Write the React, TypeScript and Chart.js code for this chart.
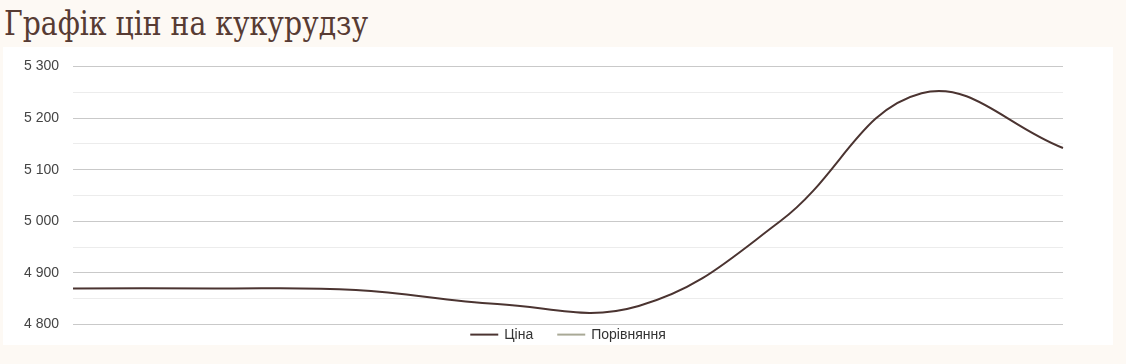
import React, { useEffect, useRef } from 'react';
import { Chart, registerables } from 'chart.js';

Chart.register(...registerables);

const titleText = 'Графік цін на кукурудзу';
const categories = ['1', '2', '3', '4', '5', '6', '7', '8'];
const priceValues = [4870, 4870, 4867, 4840, 4836, 5000, 5248, 5142];
const compareValues: number[] = [];
const seriesNames = ['Ціна', 'Порівняння'];
const seriesColors = ['#4b3431', '#a9a996'];
const yMin = 4800;
const yMax = 5300;
const yStep = 50;
const yLabelStep = 100;

const fmt = (v: number) => String(v).replace(/\B(?=(\d{3})+(?!\d))/g, ' ');

const legendPlugin = {
  id: 'lineLegend',
  afterDraw(chart: any) {
    const { ctx, chartArea } = chart;
    ctx.save();
    ctx.font = '14px Arial, "Liberation Sans", sans-serif';
    const lineW = 28;
    const gapText = 6;
    const gapItem = 24;
    const items = chart.data.datasets.map((ds: any) => ({
      text: ds.label as string,
      color: ds.borderColor as string,
      w: ctx.measureText(ds.label).width,
    }));
    const total =
      items.reduce((s: number, it: any) => s + lineW + gapText + it.w, 0) +
      gapItem * (items.length - 1);
    let x = (chartArea.left + chartArea.right) / 2 - total / 2;
    const y = chartArea.bottom + 10;
    ctx.textBaseline = 'middle';
    ctx.textAlign = 'left';
    for (const it of items) {
      ctx.strokeStyle = it.color;
      ctx.lineWidth = 2;
      ctx.beginPath();
      ctx.moveTo(x, y);
      ctx.lineTo(x + lineW, y);
      ctx.stroke();
      ctx.fillStyle = '#333333';
      ctx.fillText(it.text, x + lineW + gapText, y + 1);
      x += lineW + gapText + it.w + gapItem;
    }
    ctx.restore();
  },
};

export default function App() {
  const canvasRef = useRef<HTMLCanvasElement | null>(null);

  useEffect(() => {
    document.body.style.margin = '0';
    document.body.style.background = '#fdf9f4';
    const canvas = canvasRef.current;
    if (!canvas) return;
    const chart = new Chart(canvas, {
      type: 'line',
      data: {
        labels: categories,
        datasets: [
          {
            label: seriesNames[0],
            data: priceValues,
            borderColor: seriesColors[0],
            backgroundColor: seriesColors[0],
            borderWidth: 2,
            tension: 0.4,
            pointRadius: 0,
            fill: false,
          },
          {
            label: seriesNames[1],
            data: compareValues,
            borderColor: seriesColors[1],
            backgroundColor: seriesColors[1],
            borderWidth: 2,
            tension: 0.4,
            pointRadius: 0,
            fill: false,
          },
        ],
      },
      options: {
        animation: false,
        responsive: true,
        maintainAspectRatio: false,
        layout: { padding: { top: 0, left: 7, right: 50, bottom: 0 } },
        plugins: {
          legend: { display: false },
          tooltip: { enabled: false },
          title: { display: false },
        },
        scales: {
          x: { display: false },
          y: {
            min: yMin,
            max: yMax,
            border: { display: false },
            grid: {
              drawTicks: false,
              lineWidth: 1,
              color: (c: any) =>
                c.tick && c.tick.value % yLabelStep === 0 ? '#c9c9c9' : '#ececec',
            },
            ticks: {
              stepSize: yStep,
              autoSkip: false,
              padding: 14,
              color: '#444444',
              font: { family: 'Arial, "Liberation Sans", sans-serif', size: 14 },
              callback: (v: any) => (Number(v) % yLabelStep === 0 ? fmt(Number(v)) : ''),
            },
          },
        },
      },
      plugins: [legendPlugin],
    });
    return () => chart.destroy();
  }, []);

  return (
    <div style={{ position: 'relative', width: 1126, height: 364, background: '#fdf9f4', overflow: 'hidden' }}>
      <div
        style={{
          position: 'absolute',
          left: 4,
          top: 4,
          fontFamily: '"DejaVu Serif", serif',
          fontSize: 33,
          lineHeight: '40px',
          color: '#573b33',
          whiteSpace: 'nowrap',
          transform: 'scaleX(0.857)',
          transformOrigin: '0 0',
        }}
      >
        {titleText}
      </div>
      <div style={{ position: 'absolute', left: 3, top: 47, width: 1110, height: 298, background: '#ffffff' }} />
      <div style={{ position: 'absolute', left: 3, top: 44, width: 1110, height: 303 }}>
        <canvas ref={canvasRef} style={{ display: 'block' }} />
      </div>
    </div>
  );
}
